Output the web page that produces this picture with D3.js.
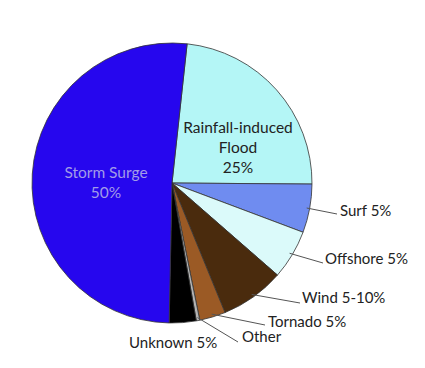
<!DOCTYPE html>
<html><head><meta charset="utf-8">
<script src="https://cdn.jsdelivr.net/npm/d3@7"></script>
<style>html,body{margin:0;padding:0;background:#fff;}</style>
</head><body>
<svg id="chart" width="425" height="368"></svg>
<script>
const categories = ["Rainfall-induced Flood", "Surf", "Offshore", "Wind", "Tornado", "Other", "Unknown", "Storm Surge"];
const values = [23.4, 5.6, 5.7, 7.4, 3.0, 0.4, 3.1, 51.4];
const labels = ["Rainfall-induced|Flood|25%", "Surf 5%", "Offshore 5%", "Wind 5-10%", "Tornado 5%", "Other", "Unknown 5%", "Storm Surge|50%"];
const colors = ["#b4f6f6", "#6f8cf0", "#dbfafa", "#4a2b0d", "#9b5a25", "#b4b4b4", "#000000", "#2606ee"];

const svg = d3.select("#chart");
const cx = 172, cy = 183, r = 140;
const start = 6.2 * Math.PI / 180;
const pie = d3.pie().sort(null).value(d => d).startAngle(start).endAngle(start + 2 * Math.PI);
const arcs = pie(values);
const arc = d3.arc().innerRadius(0).outerRadius(r);
const g = svg.append("g").attr("transform", `translate(${cx},${cy})`);
g.selectAll("path").data(arcs).enter().append("path")
  .attr("d", arc).attr("fill", (d, i) => colors[i])
  .attr("stroke", "#333").attr("stroke-width", 0.8);

const font = "Lato, 'Open Sans', sans-serif";
// inside labels
const inside = [
  {i: 0, x: 238, y: 128, fill: "#222"},
  {i: 7, x: 106, y: 173, fill: "#a29ce8"}
];
inside.forEach(o => {
  const lines = labels[o.i].split("|");
  const t = svg.append("text").attr("x", o.x).attr("y", o.y).attr("text-anchor", "middle")
    .attr("font-family", font).attr("font-size", 15.5).attr("fill", o.fill);
  lines.forEach((l, k) => t.append("tspan").attr("x", o.x).attr("dy", k === 0 ? "0.35em" : 20).text(l));
});

// outside labels with leader lines (leader from arc edge to text)
const outside = [
  {i: 1, tx: 340, ty: 211, lx: 337, ly: 214},
  {i: 2, tx: 325, ty: 259, lx: 323, ly: 263},
  {i: 3, tx: 302, ty: 298, lx: 300, ly: 303},
  {i: 4, tx: 268, ty: 322, lx: 265, ly: 325},
  {i: 5, tx: 242, ty: 337, lx: 238, ly: 342},
  {i: 6, tx: 129, ty: 343, lx: null}
];
outside.forEach(o => {
  const a = arcs[o.i];
  let mid = (a.startAngle + a.endAngle) / 2;
  const px = cx + Math.sin(mid) * (r - 3), py = cy - Math.cos(mid) * (r - 3);
  if (o.lx !== null) {
    svg.append("path").attr("d", `M${px},${py}L${o.lx},${o.ly}`)
      .attr("fill", "none").attr("stroke", "#555").attr("stroke-width", 1);
  }
  svg.append("text").attr("x", o.tx).attr("y", o.ty).attr("dy", "0.35em")
    .attr("font-family", font).attr("font-size", 15).attr("fill", "#222").text(labels[o.i]);
});
</script>
</body></html>
